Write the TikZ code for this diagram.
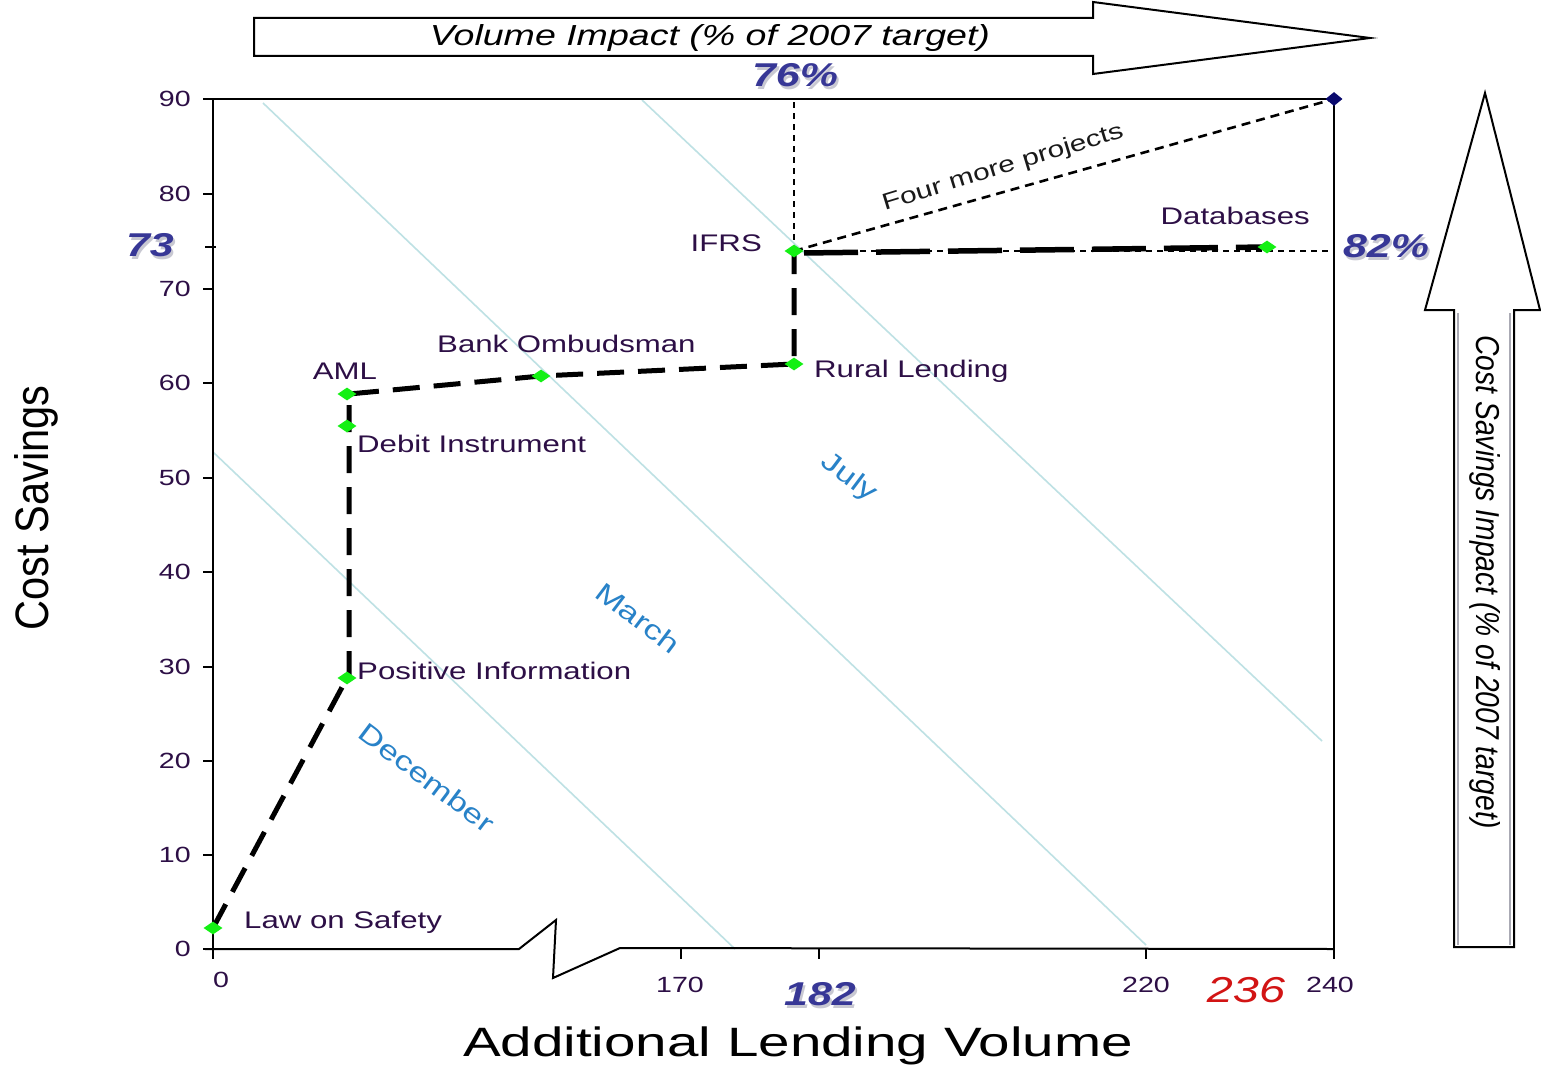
\documentclass[tikz,border=0pt]{standalone}
\usepackage{fontspec}
\setmainfont{Liberation Sans}[FakeStretch=1.3]
\newfontfamily\plainsans{Liberation Sans}
\usetikzlibrary{shapes.geometric}
\definecolor{lblc}{RGB}{45,15,70}
\definecolor{bigc}{RGB}{55,55,150}
\definecolor{monc}{RGB}{40,130,200}
\definecolor{diagc}{RGB}{190,225,228}
\definecolor{ptgreen}{RGB}{20,240,20}
\definecolor{navyc}{RGB}{10,10,110}
\definecolor{redc}{RGB}{210,20,20}
\definecolor{shadc}{RGB}{200,200,210}
\definecolor{arrshad}{RGB}{170,170,180}
\tikzset{
  lbl/.style={font=\fontsize{24}{26}\selectfont, text=lblc, inner sep=0pt},
  ticklbl/.style={font=\fontsize{22}{24}\selectfont, text=lblc, inner sep=0pt},
  bignum/.style={font=\fontsize{33}{36}\selectfont\bfseries\itshape, text=bigc, inner sep=0pt},
  bigshadow/.style={font=\fontsize{33}{36}\selectfont\bfseries\itshape, text=shadc, inner sep=0pt},
  month/.style={font=\fontsize{27}{30}\selectfont, text=monc, inner sep=0pt},
  greenpt/.style={diamond, fill=ptgreen, inner sep=0pt, minimum width=19pt, minimum height=13pt},
  navypt/.style={diamond, fill=navyc, inner sep=0pt, minimum width=17pt, minimum height=14pt},
  diagline/.style={draw=diagc, line width=1.6pt},
  axisline/.style={draw=black, line width=2pt},
  thickdash/.style={draw=black, line width=5pt, dash pattern=on 27pt off 14pt},
  longdash/.style={draw=black, line width=5.5pt, dash pattern=on 54pt off 18pt},
  thindash/.style={draw=black, line width=1.6pt, dash pattern=on 6pt off 5pt},
  fourdash/.style={draw=black, line width=2.6pt, dash pattern=on 9pt off 6pt},
  blockarrow/.style={draw=black, line width=2pt, fill=white},
}
\begin{document}
\begin{tikzpicture}[x=1pt,y=-1pt]
\useasboundingbox[fill=white] (0,0) rectangle (1541,1067);

% diagonal month lines
\draw[diagline] (213,452) -- (735,949);
\draw[diagline] (263,103) -- (1146,945);
\draw[diagline] (642,100) -- (1322,741);

% frame and axes
\draw[axisline] (213,949) -- (213,99) -- (1334,99) -- (1334,949);
\draw[axisline] (205,949) -- (519,949) -- (556,920) -- (553,978) -- (620,948) -- (1334,949);
\foreach \yy in {99,194,289,383,478,572,667,761,855,949}
  \draw[axisline] (203,\yy) -- (213,\yy);
\draw[axisline] (205,247) -- (216,247);
\foreach \xx in {213,681,819,1146,1334}
  \draw[axisline] (\xx,949) -- (\xx,959);

% tick labels
\node[ticklbl, anchor=east] at (191,99) {90};
\node[ticklbl, anchor=east] at (191,194) {80};
\node[ticklbl, anchor=east] at (191,289) {70};
\node[ticklbl, anchor=east] at (191,383) {60};
\node[ticklbl, anchor=east] at (191,478) {50};
\node[ticklbl, anchor=east] at (191,572) {40};
\node[ticklbl, anchor=east] at (191,667) {30};
\node[ticklbl, anchor=east] at (191,761) {20};
\node[ticklbl, anchor=east] at (191,855) {10};
\node[ticklbl, anchor=east] at (191,949) {0};
\node[ticklbl] at (221,980) {0};
\node[ticklbl] at (680,985) {170};
\node[ticklbl] at (1146,985) {220};
\node[ticklbl] at (1330,985) {240};

% data points
\coordinate (law) at (213,928);
\coordinate (posinfo) at (347,678);
\coordinate (debit) at (347,426);
\coordinate (aml) at (347,394);
\coordinate (bank) at (541,376);
\coordinate (rural) at (794,364);
\coordinate (ifrs) at (794,251);
\coordinate (db) at (1267,247);
\coordinate (endpt) at (1334,99);
\coordinate (topref) at (794,99);
\coordinate (rightref) at (1334,251);

% reference lines
\draw[thindash] (ifrs) -- (topref);
\draw[thindash] (ifrs) -- (rightref);
\draw[fourdash] (ifrs) -- (endpt);

% path of projects
\draw[thickdash] (law) -- (posinfo);
\draw[thickdash] ([xshift=2pt]posinfo) -- ([xshift=2pt]aml) -- (bank) -- (rural) -- (ifrs);
\draw[longdash] ([xshift=10pt,yshift=-2pt]ifrs) -- (db);

\node[greenpt] (lawd) at (law) {};
\node[greenpt] (posd) at (posinfo) {};
\node[greenpt] (debd) at (debit) {};
\node[greenpt] (amld) at (aml) {};
\node[greenpt] (bankd) at (bank) {};
\node[greenpt] (rurd) at (rural) {};
\node[greenpt] (ifrsd) at (ifrs) {};
\node[greenpt] (dbd) at (db) {};
\node[navypt] (endd) at (endpt) {};

% point labels
\node[lbl, anchor=west] (lawl) at (244,922) {Law on Safety};
\node[lbl, anchor=west] (posl) at (357,671) {Positive Information};
\node[lbl, anchor=west] (debl) at (357,444) {Debit Instrument};
\node[lbl] (amll) at (345,371) {AML};
\node[lbl, anchor=west] (bankl) at (437,344) {Bank Ombudsman};
\node[lbl, anchor=west] (rurl) at (814,371) {Rural Lending};
\node[lbl, anchor=east] (ifrsl) at (762,243) {IFRS};
\node[lbl, anchor=east] (dbl) at (1310,216) {Databases};
\node[rotate=17, inner sep=0pt, text=black!90, font=\fontsize{23}{25}\selectfont] (fourl) at (1003,168) {Four more projects};

% months
\node[month, rotate=-37] (decl) at (427,778) {December};
\node[month, rotate=-37] (marl) at (638,618) {March};
\node[month, rotate=-37] (jull) at (849,478) {July};

% big numbers
\node[bigshadow] at (797,78) {76\%};
\node[bignum] (p76) at (795,75) {76\%};
\node[bigshadow] at (152,248) {73};
\node[bignum] (p73) at (150,245) {73};
\node[bigshadow] at (1388,249) {82\%};
\node[bignum] (p82) at (1386,246) {82\%};
\node[bigshadow] at (822,997) {182};
\node[bignum] (p182) at (820,994) {182};
\node[inner sep=0pt, text=redc, font=\fontsize{36}{38}\selectfont\itshape] (p236) at (1246,990) {236};

% axis titles
\node[inner sep=0pt] (xtitle) at (798,1046) {\resizebox{670pt}{\height}{\fontsize{41}{44}\selectfont Additional Lending Volume}};
\node[inner sep=0pt, rotate=90] (ytitle) at (36,508) {\resizebox{245pt}{34pt}{\fontsize{40}{44}\selectfont\plainsans Cost Savings}};

% block arrows
\draw[draw=arrshad, line width=2pt] (256,21) -- (1095,21);
\draw[blockarrow] (254,18) -- (1093,18) -- (1093,2) -- (1370,38) -- (1093,74) -- (1093,56) -- (254,56) -- cycle;
\node[inner sep=0pt] (ttitle) at (710,38) {\resizebox{560pt}{21pt}{\fontsize{28}{30}\selectfont\plainsans\itshape Volume Impact (\% of 2007 target)}};

\draw[blockarrow] (1454,947) -- (1454,310) -- (1425,310) -- (1485,93) -- (1540,310) -- (1514,310) -- (1514,947) -- cycle;
\draw[draw=arrshad, line width=2pt] (1458,313) -- (1458,945);
\draw[draw=arrshad, line width=2pt] (1510,313) -- (1510,945);
\node[inner sep=0pt, rotate=-90] (rtitle) at (1485,582) {\resizebox{493pt}{24pt}{\fontsize{28}{30}\selectfont\plainsans\itshape Cost Savings Impact (\% of 2007 target)}};
\end{tikzpicture}
\end{document}
